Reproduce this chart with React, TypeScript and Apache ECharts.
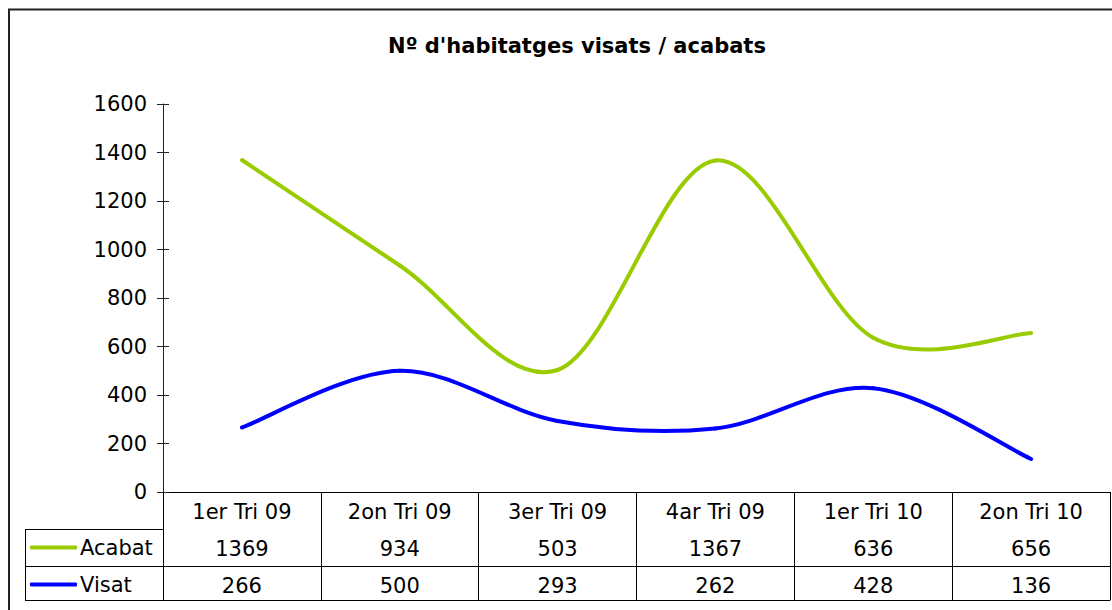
import React, { useEffect, useRef } from "react";
import * as echarts from "echarts";

const titleText = "Nº d'habitatges visats / acabats";
const categories = ["1er Tri 09", "2on Tri 09", "3er Tri 09", "4ar Tri 09", "1er Tri 10", "2on Tri 10"];
const acabat = [1369, 934, 503, 1367, 636, 656];
const visat = [266, 500, 293, 262, 428, 136];
const seriesNames = ["Acabat", "Visat"];
const seriesColors = ["#99CC00", "#0000FF"];

const FONT = "DejaVu Sans";

// Excel-like smoothed line (Catmull-Rom -> cubic Bezier), drawn via the axis scales
function smoothSeries(name: string, values: number[], color: string) {
  return {
    name,
    type: "custom",
    data: values.map((v, i) => [i, v]),
    itemStyle: { color },
    clip: false,
    renderItem: (params: any, api: any) => {
      const i = params.dataIndex;
      if (i >= values.length - 1) return { type: "group", children: [] };
      const idx = (k: number) => Math.max(0, Math.min(values.length - 1, k));
      const p0 = api.coord([idx(i - 1), values[idx(i - 1)]]);
      const p1 = api.coord([i, values[i]]);
      const p2 = api.coord([i + 1, values[i + 1]]);
      const p3 = api.coord([idx(i + 2), values[idx(i + 2)]]);
      return {
        type: "bezierCurve",
        shape: {
          x1: p1[0],
          y1: p1[1],
          x2: p2[0],
          y2: p2[1],
          cpx1: p1[0] + (p2[0] - p0[0]) / 6,
          cpy1: p1[1] + (p2[1] - p0[1]) / 6,
          cpx2: p2[0] - (p3[0] - p1[0]) / 6,
          cpy2: p2[1] - (p3[1] - p1[1]) / 6,
        },
        style: { stroke: color, lineWidth: 4, fill: "none", lineCap: "round" },
      };
    },
  };
}

export default function App() {
  const ref = useRef<HTMLDivElement>(null);
  useEffect(() => {
    if (!ref.current) return;
    const chart = echarts.init(ref.current, null, { renderer: "svg" });
    const labelStyle = { fontSize: 21, fontFamily: FONT, color: "#000", interval: 0, margin: 9 };
    const tableLine = { lineStyle: { color: "#000", width: 1 } };
    chart.setOption({
      animation: false,
      backgroundColor: "#fff",
      title: {
        text: titleText,
        left: 572,
        top: 30,
        textAlign: "center",
        textStyle: { fontFamily: FONT, fontWeight: "bold", fontSize: 21, color: "#000" },
      },
      legend: {
        orient: "vertical",
        left: 30,
        top: 537,
        padding: 0,
        itemGap: 16,
        itemWidth: 47,
        itemHeight: 4,
        icon: "roundRect",
        data: seriesNames,
        textStyle: { fontFamily: FONT, fontSize: 21, color: "#000", lineHeight: 21, padding: [0, 0, 0, -2] },
      },
      grid: { left: 163, right: 2, top: 104, bottom: 118, containLabel: false },
      xAxis: [
        {
          type: "category",
          data: categories,
          boundaryGap: true,
          axisLine: tableLine,
          axisTick: { show: true, length: 108, interval: 0, lineStyle: { color: "#000", width: 1 } },
          axisLabel: labelStyle,
          splitLine: { show: false },
        },
        {
          type: "category",
          data: acabat.map(String),
          position: "bottom",
          offset: 37,
          axisLine: tableLine,
          axisTick: { show: false },
          axisLabel: labelStyle,
        },
        {
          type: "category",
          data: visat.map(String),
          position: "bottom",
          offset: 74,
          axisLine: tableLine,
          axisTick: { show: false },
          axisLabel: labelStyle,
        },
        {
          type: "category",
          data: categories,
          position: "bottom",
          offset: 108,
          axisLine: tableLine,
          axisTick: { show: false },
          axisLabel: { show: false },
        },
      ],
      yAxis: [
        {
          type: "value",
          min: 0,
          max: 1600,
          interval: 200,
          position: "left",
          axisLine: { show: true, lineStyle: { color: "#222", width: 1 } },
          axisTick: { show: true, length: 6, lineStyle: { color: "#222" } },
          axisLabel: { fontSize: 21, fontFamily: FONT, color: "#000", margin: 16, formatter: (v: number) => String(v) },
          splitLine: { show: false },
        },
        {
          type: "value",
          min: 0,
          max: 1600,
          interval: 200,
          position: "left",
          axisLine: { show: false },
          axisTick: { show: true, inside: true, length: 6, lineStyle: { color: "#222" } },
          axisLabel: { show: false },
          splitLine: { show: false },
        },
      ],
      series: [
        smoothSeries(seriesNames[0], acabat, seriesColors[0]),
        smoothSeries(seriesNames[1], visat, seriesColors[1]),
      ],
      graphic: [
        { type: "rect", shape: { x: 9, y: 9.5, width: 1200, height: 700 }, style: { fill: "none", stroke: "#222", lineWidth: 2 }, silent: true },
        { type: "line", shape: { x1: 25, y1: 529.5, x2: 163, y2: 529.5 }, style: { stroke: "#000", lineWidth: 1 } },
        { type: "line", shape: { x1: 25, y1: 566.5, x2: 163, y2: 566.5 }, style: { stroke: "#000", lineWidth: 1 } },
        { type: "line", shape: { x1: 25, y1: 600.5, x2: 163, y2: 600.5 }, style: { stroke: "#000", lineWidth: 1 } },
        { type: "line", shape: { x1: 25.5, y1: 529, x2: 25.5, y2: 601 }, style: { stroke: "#000", lineWidth: 1 } },
      ],
    });
    return () => chart.dispose();
  }, []);
  return <div ref={ref} style={{ position: "fixed", left: 0, top: 0, width: 1112, height: 610 }} />;
}
